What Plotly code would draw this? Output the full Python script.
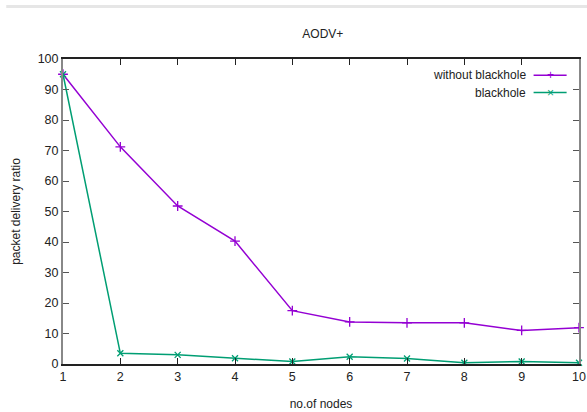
import plotly.graph_objects as go

nodes = [1, 2, 3, 4, 5, 6, 7, 8, 9, 10]
without_blackhole = [95, 71.2, 51.8, 40.3, 17.5, 13.8, 13.5, 13.5, 11.0, 11.9]
blackhole = [95, 3.5, 3.0, 1.9, 0.8, 2.4, 1.8, 0.4, 0.8, 0.4]
x_ticks = list(range(1, 11))
y_ticks = list(range(0, 101, 10))

PURPLE = "#9400D3"
GREEN = "#009E73"
FONT = "Liberation Sans"

fig = go.Figure()
fig.add_trace(go.Scatter(
    x=nodes, y=without_blackhole, mode="lines+markers", name="without blackhole",
    line=dict(color=PURPLE, width=1.5),
    marker=dict(symbol="cross-thin-open", size=7, line=dict(color=PURPLE, width=1.3)),
    cliponaxis=False, showlegend=False))
fig.add_trace(go.Scatter(
    x=nodes, y=blackhole, mode="lines+markers", name="blackhole",
    line=dict(color=GREEN, width=1.5),
    marker=dict(symbol="x-thin-open", size=6, line=dict(color=GREEN, width=1.3)),
    cliponaxis=False, showlegend=False))

# custom gnuplot-style legend (text left, sample right)
legend_items = [("without blackhole", PURPLE, "+", 0.947), ("blackhole", GREEN, "×", 0.89)]
for label, col, sym, yy in legend_items:
    fig.add_annotation(xref="paper", yref="paper", x=0.902, y=yy, text=label,
                       showarrow=False, xanchor="right", yanchor="middle",
                       font=dict(family=FONT, size=12, color="#222"))
    fig.add_shape(type="line", xref="paper", yref="paper", x0=0.912, x1=0.976,
                  y0=yy, y1=yy, line=dict(color=col, width=1.5))
    fig.add_annotation(xref="paper", yref="paper", x=0.944, y=yy, text=sym,
                       showarrow=False, xanchor="center", yanchor="middle",
                       font=dict(family=FONT, size=12, color=col))

# faint separator line at the top of the image
fig.add_shape(type="line", xref="paper", yref="paper", x0=-0.11, x1=1.02,
              y0=1.172, y1=1.172, line=dict(color="#e6e6e6", width=3))

fig.update_layout(
    width=587, height=412,
    margin=dict(l=63, r=8, t=59, b=48),
    paper_bgcolor="white", plot_bgcolor="white",
    font=dict(family=FONT, size=12, color="#222"),
    title=dict(text="AODV+", x=0.55, xanchor="center", y=0.918, yanchor="middle",
               font=dict(family=FONT, size=12, color="#222")),
)
fig.update_xaxes(
    range=[1, 10], tickvals=x_ticks, ticks="inside", ticklen=6, tickcolor="#222",
    showline=True, linecolor="#222", linewidth=1.5, mirror="ticks",
    showgrid=False, zeroline=False, automargin=False,
    title=dict(text="no.of nodes", standoff=17, font=dict(size=12)),
    tickfont=dict(size=12.5))
fig.update_yaxes(
    range=[0, 100], tickvals=y_ticks, ticks="inside", ticklen=6, tickcolor="#555",
    showline=True, linecolor="#888", linewidth=2, mirror="ticks",
    showgrid=False, zeroline=False, automargin=False,
    title=dict(text="packet delivery ratio", standoff=14, font=dict(size=12)),
    tickfont=dict(size=12.5))

fig.write_html("out.html", config={"displayModeBar": False},
               post_script="document.body.style.margin='0';document.body.style.padding='0';")
